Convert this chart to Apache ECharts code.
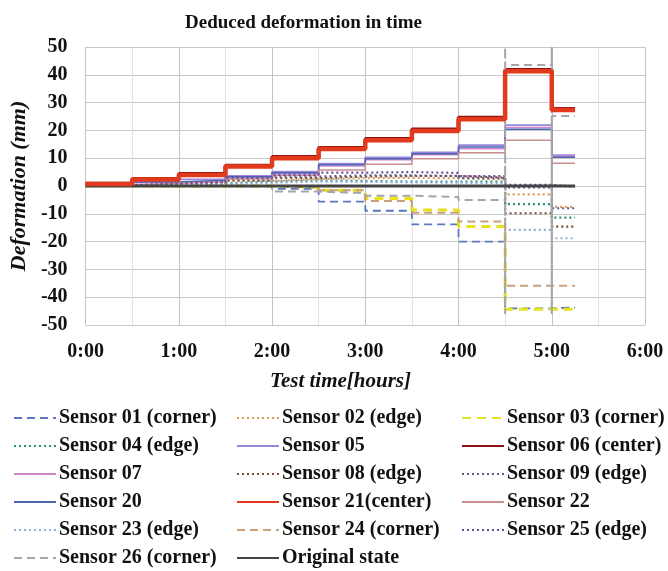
<!DOCTYPE html>
<html>
<head>
<meta charset="utf-8">
<script src="https://cdn.jsdelivr.net/npm/echarts@6/dist/echarts.min.js"></script>
<style>
html,body{margin:0;padding:0;background:#fff;}
#chart{width:668px;height:571px;}
</style>
</head>
<body>
<div id="chart"></div>
<script>
// Time breakpoints (hours): each level holds from times[i] to times[i+1]
const times = [0, 0.5, 1, 1.5, 2, 2.5, 3, 3.5, 4, 4.5, 5, 5.25];
const xTicks = ['0:00', '1:00', '2:00', '3:00', '4:00', '5:00', '6:00'];

// Deformation levels (mm) per interval
const s01 = [0, 0, 0, 0, -1.0, -5.6, -8.9, -13.8, -20.0, -44.0, -43.7];
const s02 = [0.1, 0.4, 0.8, 1.8, 2.5, 2.8, 2.9, 2.8, 2.4, -3.0, -7.5];
const s03 = [0, 0, 0, 0, -0.5, -1.5, -4.5, -8.6, -14.6, -44.3, -44.3];
const s04 = [0.2, 0.6, 1.0, 1.6, 2.0, 1.8, 1.6, 1.6, 1.6, -6.5, -11.4];
const s05 = [0.5, 1.6, 2.4, 3.6, 5.2, 8.0, 10.3, 12.1, 14.7, 21.9, 11.1];
const s06 = [0.9, 2.6, 4.4, 7.4, 10.5, 13.8, 17.0, 20.4, 24.6, 41.8, 27.8];
const s07 = [0.4, 1.2, 1.9, 3.0, 4.4, 7.2, 9.4, 11.2, 13.4, 21.0, 10.7];
const s08 = [0.2, 0.5, 0.9, 2.0, 2.8, 3.4, 3.6, 3.6, 3.0, -9.8, -14.6];
const s09 = [0.2, 0.7, 1.2, 2.5, 3.4, 3.8, 3.8, 3.6, 2.8, -0.5, -8.0];
const s20 = [0.4, 1.4, 2.1, 3.3, 4.8, 7.6, 9.8, 11.6, 14.0, 20.4, 10.3];
const s21 = [0.7, 2.3, 4.0, 7.0, 10.0, 13.3, 16.5, 19.8, 24.0, 41.3, 27.3];
const s22 = [0.3, 1.0, 1.5, 2.5, 3.8, 5.8, 7.8, 9.8, 12.0, 16.5, 8.2];
const s23 = [0.1, 0.4, 0.7, 1.2, 1.6, 1.5, 1.3, 1.2, 1.0, -15.8, -18.8];
const s24 = [0, 0, 0, 0, -0.5, -1.5, -5.4, -9.6, -12.8, -35.9, -35.9];
const s25 = [0.3, 0.9, 1.5, 3.0, 4.0, 4.8, 5.0, 4.7, 3.6, 0.4, -0.3];
const s26 = [0, 0, 0, 0, -2.0, -2.6, -3.5, -4.0, -5.0, 43.5, 25.2];
const s26SpikeTimes = [4.5, 5.0];
const s26SpikeRange = [50, -46];
const original = [0, 0, 0, 0, 0, 0, 0, 0, 0, 0, 0];

function stepData(levels, spikes) {
  const pts = [];
  for (let i = 0; i < levels.length; i++) {
    const t0 = times[i];
    if (spikes && spikes.indexOf(t0) >= 0) {
      pts.push([t0, s26SpikeRange[0]]);
      pts.push([t0, s26SpikeRange[1]]);
    }
    pts.push([t0, levels[i]]);
    pts.push([times[i + 1], levels[i]]);
  }
  return pts;
}

const FONT = '"Liberation Serif", "Times New Roman", serif';

const defs = [
  ['Sensor 01 (corner)', s01, '#5a78bd', 1.8, [8, 5]],
  ['Sensor 02 (edge)', s02, '#d99a5c', 2.2, [2, 3]],
  ['Sensor 03 (corner)', s03, '#e6e21e', 3, [9, 6]],
  ['Sensor 04 (edge)', s04, '#2f8f7a', 2.2, [2, 3]],
  ['Sensor 05', s05, '#9a88dc', 1.8, 'solid'],
  ['Sensor 06 (center)', s06, '#8e1414', 3.5, 'solid'],
  ['Sensor 07', s07, '#cf86cf', 1.5, 'solid'],
  ['Sensor 08 (edge)', s08, '#7e4b36', 2.2, [2, 3]],
  ['Sensor 09 (edge)', s09, '#5a5f86', 2.2, [2, 3]],
  ['Sensor 20', s20, '#4a66b2', 1.5, 'solid'],
  ['Sensor 21(center)', s21, '#e23a1c', 4.5, 'solid'],
  ['Sensor 22', s22, '#c98e8e', 1.5, 'solid'],
  ['Sensor 23 (edge)', s23, '#8eaee0', 2.2, [2, 3]],
  ['Sensor 24 (corner)', s24, '#c9a07e', 2, [8, 5]],
  ['Sensor 25 (edge)', s25, '#6b4aa0', 2.2, [2, 3]],
  ['Sensor 26 (corner)', s26, '#a6a6a6', 2, [8, 5]],
  ['Original state', original, '#454545', 3, 'solid']
];

const series = defs.map(function (d, i) {
  return {
    name: d[0],
    type: 'line',
    data: stepData(d[1], d[0] === 'Sensor 26 (corner)' ? s26SpikeTimes : null),
    symbol: 'none',
    showSymbol: false,
    animation: false,
    z: d[0] === 'Sensor 21(center)' ? 10 : (d[0] === 'Original state' ? 8 : 2 + i * 0.01),
    lineStyle: { color: d[2], width: d[3], type: d[4] },
    itemStyle: { color: d[2] }
  };
});

function legendCol(left, names) {
  return {
    orient: 'vertical',
    left: left,
    top: 408,
    height: 162,
    padding: 0,
    itemGap: 8,
    itemWidth: 42,
    itemHeight: 14,
    data: names,
    selectedMode: false,
    itemStyle: { opacity: 0, borderWidth: 0 },
    textStyle: { fontFamily: FONT, fontSize: 20, fontWeight: 'bold', color: '#111', lineHeight: 20, padding: [0, 0, 0, -2] }
  };
}

const chart = echarts.init(document.getElementById('chart'), null, { renderer: 'canvas' });
chart.setOption({
  backgroundColor: '#ffffff',
  animation: false,
  title: {
    text: 'Deduced deformation in time',
    left: 180,
    top: 9,
    textStyle: { fontFamily: FONT, fontSize: 19, fontWeight: 'bold', color: '#111' }
  },
  grid: { left: 83, right: 23, top: 47, bottom: 246, containLabel: false },
  xAxis: {
    type: 'value',
    min: 0,
    max: 6,
    interval: 1,
    axisLine: { show: false },
    axisTick: { show: false },
    axisLabel: {
      margin: 17,
      fontFamily: FONT, fontSize: 20, fontWeight: 'bold', color: '#111',
      formatter: function (v) { return xTicks[Math.round(v)]; }
    },
    splitLine: { show: true, lineStyle: { color: '#c4c4c4', width: 1 } },
    minorTick: { show: false, splitNumber: 2 },
    minorSplitLine: { show: true, lineStyle: { color: '#e2e2e2', width: 1 } }
  },
  yAxis: {
    type: 'value',
    min: -50,
    max: 50,
    interval: 10,
    name: 'Deformation (mm)',
    nameLocation: 'middle',
    nameGap: 50,
    nameTextStyle: { fontFamily: FONT, fontSize: 22, fontWeight: 'bold', fontStyle: 'italic', color: '#111' },
    axisLine: { show: false },
    axisTick: { show: false },
    axisLabel: { margin: 18, fontFamily: FONT, fontSize: 20, fontWeight: 'bold', color: '#111' },
    splitLine: { show: true, lineStyle: { color: '#c8c8c8', width: 1 } }
  },
  graphic: [{
    type: 'text',
    left: 270,
    top: 371,
    style: { text: 'Test time[hours]', font: 'italic bold 21px "Liberation Serif", serif', fill: '#111' }
  }],
  legend: [
    legendCol(13, ['Sensor 01 (corner)', 'Sensor 04 (edge)', 'Sensor 07', 'Sensor 20', 'Sensor 23 (edge)', 'Sensor 26 (corner)']),
    legendCol(236, ['Sensor 02 (edge)', 'Sensor 05', 'Sensor 08 (edge)', 'Sensor 21(center)', 'Sensor 24 (corner)', 'Original state']),
    legendCol(461, ['Sensor 03 (corner)', 'Sensor 06 (center)', 'Sensor 09 (edge)', 'Sensor 22', 'Sensor 25 (edge)'])
  ],
  series: series
});
</script>
</body>
</html>
